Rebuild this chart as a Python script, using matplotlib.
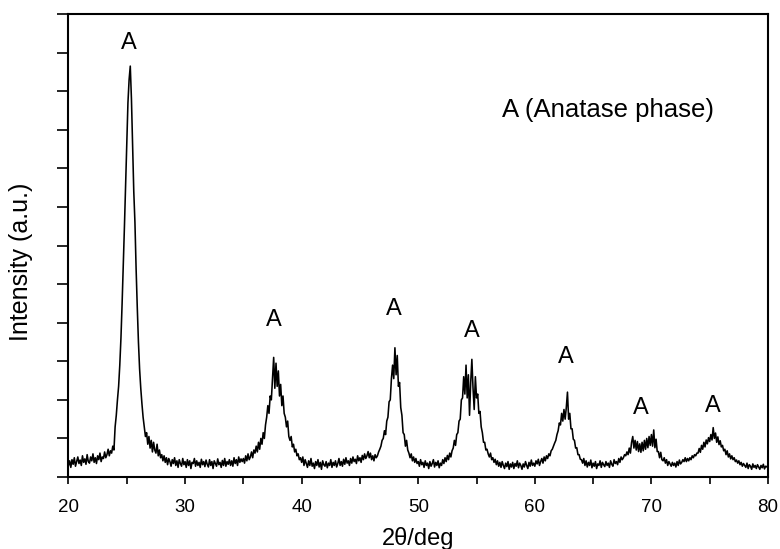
import numpy as np
import matplotlib
matplotlib.use("Agg")
import matplotlib.pyplot as plt

plt.rcParams['font.family'] = ['Liberation Sans', 'DejaVu Sans']

# XRD pattern, 2theta 20..80 deg in 0.1 deg steps, one row per degree
intensity = [
    0.30, 0.42, 0.25, 0.45, 0.33, 0.50, 0.28, 0.40, 0.52, 0.35,  # 20
    0.44, 0.30, 0.55, 0.38, 0.47, 0.33, 0.58, 0.40, 0.36, 0.52,  # 21
    0.42, 0.60, 0.38, 0.50, 0.35, 0.55, 0.45, 0.62, 0.40, 0.52,  # 22
    0.48, 0.65, 0.50, 0.58, 0.72, 0.55, 0.68, 0.62, 0.80, 0.70,  # 23
    1.30, 1.60, 2.00, 2.35, 2.90, 3.60, 4.50, 5.50, 6.50, 7.60,  # 24
    8.70, 9.70, 10.30, 10.65, 9.80, 8.60, 7.40, 6.60, 5.40, 4.40,  # 25
    3.50, 2.80, 2.30, 1.90, 1.55, 1.30, 1.05, 1.15, 0.85, 1.05,  # 26
    0.75, 0.95, 0.65, 0.90, 0.70, 0.62, 0.85, 0.55, 0.70, 0.50,  # 27
    0.58, 0.42, 0.55, 0.38, 0.50, 0.32, 0.48, 0.40, 0.28, 0.45,  # 28
    0.35, 0.50, 0.30, 0.42, 0.25, 0.45, 0.35, 0.28, 0.48, 0.32,  # 29
    0.40, 0.25, 0.45, 0.30, 0.42, 0.22, 0.38, 0.35, 0.48, 0.28,  # 30
    0.42, 0.30, 0.38, 0.25, 0.46, 0.32, 0.40, 0.27, 0.44, 0.33,  # 31
    0.26, 0.45, 0.30, 0.40, 0.22, 0.42, 0.35, 0.28, 0.47, 0.32,  # 32
    0.38, 0.25, 0.43, 0.30, 0.48, 0.28, 0.40, 0.33, 0.45, 0.30,  # 33
    0.42, 0.28, 0.50, 0.35, 0.45, 0.30, 0.52, 0.38, 0.47, 0.40,  # 34
    0.48, 0.36, 0.55, 0.42, 0.60, 0.45, 0.52, 0.65, 0.50, 0.70,  # 35
    0.62, 0.80, 0.65, 0.90, 0.72, 1.00, 0.85, 1.15, 1.00, 1.35,  # 36
    1.55, 1.85, 1.65, 2.10, 2.00, 2.55, 3.10, 2.30, 2.95, 2.35,  # 37
    2.75, 2.10, 2.40, 1.85, 2.10, 1.65, 1.55, 1.30, 1.45, 1.05,  # 38
    0.95, 1.05, 0.78, 0.85, 0.65, 0.72, 0.55, 0.60, 0.45, 0.50,  # 39
    0.38, 0.52, 0.30, 0.45, 0.35, 0.25, 0.42, 0.30, 0.48, 0.28,  # 40
    0.36, 0.22, 0.40, 0.30, 0.45, 0.26, 0.38, 0.20, 0.42, 0.32,  # 41
    0.28, 0.40, 0.24, 0.36, 0.30, 0.45, 0.25, 0.38, 0.30, 0.42,  # 42
    0.26, 0.35, 0.48, 0.30, 0.40, 0.28, 0.46, 0.33, 0.50, 0.36,  # 43
    0.42, 0.30, 0.48, 0.36, 0.52, 0.40, 0.46, 0.35, 0.55, 0.42,  # 44
    0.50, 0.38, 0.56, 0.45, 0.60, 0.48, 0.55, 0.66, 0.50, 0.62,  # 45
    0.45, 0.55, 0.42, 0.58, 0.50, 0.55, 0.65, 0.72, 0.80, 0.95,  # 46
    1.00, 1.20, 1.10, 1.45, 1.55, 1.95, 2.00, 2.55, 2.90, 2.55,  # 47
    3.35, 2.65, 3.15, 2.35, 2.45, 1.80, 1.60, 1.15, 1.10, 0.80,  # 48
    0.95, 0.70, 0.62, 0.50, 0.60, 0.42, 0.52, 0.38, 0.48, 0.35,  # 49
    0.40, 0.28, 0.45, 0.32, 0.38, 0.25, 0.42, 0.30, 0.36, 0.22,  # 50
    0.40, 0.28, 0.35, 0.45, 0.26, 0.38, 0.30, 0.42, 0.24, 0.36,  # 51
    0.30, 0.45, 0.35, 0.50, 0.40, 0.56, 0.45, 0.62, 0.52, 0.68,  # 52
    0.75, 0.95, 0.82, 1.10, 1.15, 1.45, 1.50, 2.00, 2.05, 2.60,  # 53
    2.15, 2.90, 2.05, 2.65, 1.60, 2.45, 3.05, 2.30, 1.75, 2.60,  # 54
    2.05, 2.15, 1.65, 1.70, 1.30, 1.15, 0.90, 0.90, 0.70, 0.72,  # 55
    0.60, 0.52, 0.62, 0.45, 0.50, 0.38, 0.46, 0.32, 0.42, 0.28,  # 56
    0.38, 0.25, 0.40, 0.30, 0.22, 0.36, 0.27, 0.40, 0.20, 0.34,  # 57
    0.26, 0.38, 0.22, 0.35, 0.28, 0.42, 0.24, 0.36, 0.30, 0.20,  # 58
    0.34, 0.26, 0.40, 0.30, 0.22, 0.38, 0.28, 0.44, 0.30, 0.36,  # 59
    0.28, 0.42, 0.34, 0.46, 0.30, 0.40, 0.48, 0.36, 0.52, 0.42,  # 60
    0.55, 0.48, 0.60, 0.55, 0.68, 0.72, 0.80, 0.88, 0.95, 1.10,  # 61
    1.20, 1.40, 1.35, 1.65, 1.45, 1.75, 1.50, 1.80, 2.20, 1.50,  # 62
    1.65, 1.25, 1.25, 0.98, 0.95, 0.75, 0.76, 0.58, 0.58, 0.46,  # 63
    0.45, 0.36, 0.48, 0.30, 0.42, 0.26, 0.38, 0.30, 0.44, 0.24,  # 64
    0.36, 0.28, 0.40, 0.22, 0.34, 0.30, 0.42, 0.25, 0.38, 0.32,  # 65
    0.27, 0.40, 0.30, 0.36, 0.25, 0.42, 0.33, 0.28, 0.45, 0.35,  # 66
    0.40, 0.32, 0.48, 0.38, 0.52, 0.45, 0.50, 0.58, 0.55, 0.65,  # 67
    0.58, 0.75, 0.62, 0.90, 1.05, 0.75, 0.95, 0.70, 0.92, 0.66,  # 68
    0.86, 0.64, 0.90, 0.68, 0.95, 0.72, 1.00, 0.76, 1.05, 0.82,  # 69
    1.10, 0.80, 1.22, 0.76, 0.98, 0.66, 0.66, 0.50, 0.64, 0.45,  # 70
    0.42, 0.50, 0.36, 0.45, 0.30, 0.40, 0.34, 0.28, 0.38, 0.30,  # 71
    0.36, 0.26, 0.40, 0.30, 0.44, 0.34, 0.38, 0.45, 0.40, 0.50,  # 72
    0.40, 0.48, 0.42, 0.50, 0.45, 0.55, 0.50, 0.58, 0.55, 0.62,  # 73
    0.62, 0.74, 0.64, 0.82, 0.72, 0.90, 0.78, 0.96, 0.86, 1.02,  # 74
    0.92, 1.10, 0.96, 1.28, 1.00, 1.14, 0.90, 1.04, 0.84, 0.94,  # 75
    0.78, 0.82, 0.68, 0.72, 0.58, 0.68, 0.52, 0.60, 0.47, 0.55,  # 76
    0.45, 0.50, 0.40, 0.44, 0.36, 0.42, 0.32, 0.38, 0.28, 0.35,  # 77
    0.30, 0.25, 0.36, 0.22, 0.32, 0.28, 0.20, 0.34, 0.25, 0.30,  # 78
    0.22, 0.32, 0.26, 0.20, 0.30, 0.24, 0.33, 0.21, 0.28, 0.26,  # 79
    0.30,                                                        # 80
]
two_theta = np.linspace(20, 80, len(intensity))

# anatase peak labels (position, height of the letter)
peak_x = [25.2, 37.6, 47.9, 54.6, 62.7, 69.1, 75.3]
peak_y = [11.25, 4.07, 4.35, 3.78, 3.10, 1.78, 1.84]

fig = plt.figure(figsize=(7.8, 5.49), dpi=100)
ax = fig.add_axes([0.0878, 0.1311, 0.8968, 0.8434])

ax.plot(two_theta, intensity, color='black', linewidth=1.15)

for px, py in zip(peak_x, peak_y):
    ax.text(px, py, 'A', fontsize=17, ha='center', va='center')
ax.text(57.2, 9.5, 'A (Anatase phase)', fontsize=18.5, ha='left', va='center')

ax.set_xlim(20, 80)
ax.set_ylim(0, 12)
ax.set_xticks(np.arange(20, 81, 10))
ax.set_xticks(np.arange(25, 80, 10), minor=True)
ax.set_yticks(np.arange(0, 13, 1))
ax.set_yticklabels([])
ax.tick_params(axis='x', direction='out', length=5, width=1.2, labelsize=13.5, pad=11)
ax.tick_params(axis='x', which='minor', direction='out', length=5, width=1.2)
ax.tick_params(axis='y', direction='out', length=8, width=1.2)
for s in ax.spines.values():
    s.set_linewidth(1.5)

ax.set_xlabel('2θ/deg', fontsize=17)
ax.xaxis.set_label_coords(0.5, -0.108)
ax.set_ylabel('Intensity (a.u.)', fontsize=18)
ax.yaxis.set_label_coords(-0.051, 0.464)

fig.savefig('out.png', dpi=100)
